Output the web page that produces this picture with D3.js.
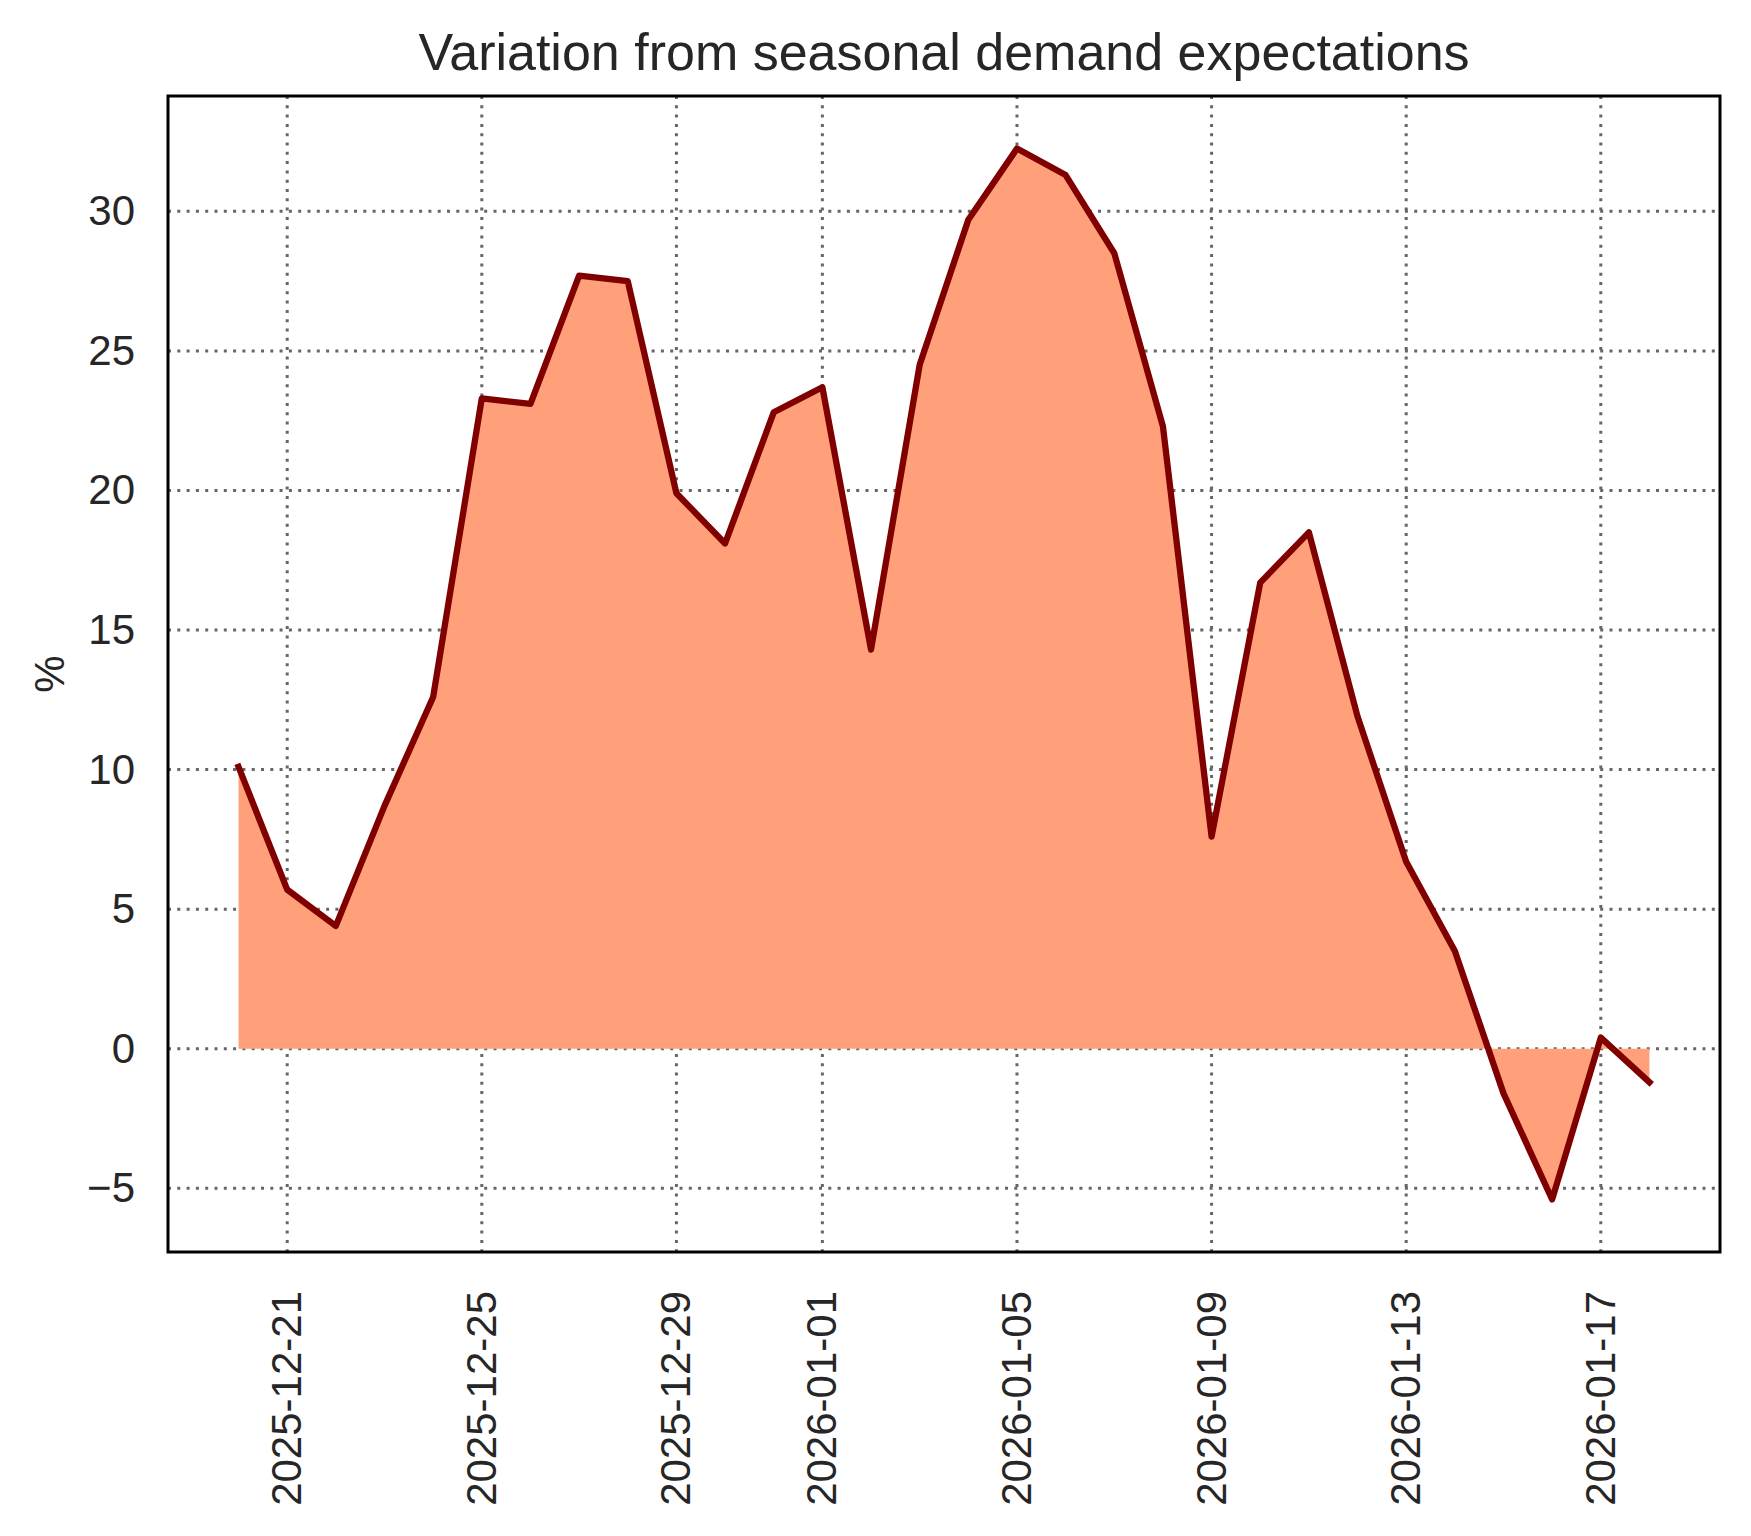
<!DOCTYPE html>
<html>
<head>
<meta charset="utf-8">
<script src="https://cdn.jsdelivr.net/npm/d3@7"></script>
<style>
    body { margin: 0; background: #fff; }
    text { font-family: "Liberation Sans", Arial, sans-serif; fill: #262626; }
</style>
</head>
<body>
<div id="chart"></div>
<script>
// Daily values, 2025-12-20 .. 2026-01-18
const startDate = '2025-12-20';
const variation = [10.1, 5.7, 4.4, 8.7, 12.6, 23.3, 23.1, 27.7, 27.5, 19.9,
                   18.1, 22.8, 23.7, 14.3, 24.5, 29.7, 32.25, 31.3, 28.5, 22.3,
                   7.6, 16.7, 18.5, 11.9, 6.7, 3.5, -1.6, -5.4, 0.4, -1.2];
const xTickLabels = ['2025-12-21', '2025-12-25', '2025-12-29', '2026-01-01',
                     '2026-01-05', '2026-01-09', '2026-01-13', '2026-01-17'];
const yTicks = [-5, 0, 5, 10, 15, 20, 25, 30];

const parseDate = d3.utcParse('%Y-%m-%d');
const start = parseDate(startDate);
const data = variation.map((v, i) => ({date: d3.utcDay.offset(start, i), value: v}));

const width = 1751, height = 1536;
const plot = {left: 168, right: 1720, top: 96, bottom: 1252};

const svg = d3.select('#chart')
    .append('svg')
    .attr('width', width)
    .attr('height', height);

// matplotlib-like 5% margins
const xExt = d3.extent(data, d => d.date);
const xPad = (xExt[1] - xExt[0]) * 0.05;
const x = d3.scaleUtc()
    .domain([new Date(+xExt[0] - xPad), new Date(+xExt[1] + xPad)])
    .range([plot.left, plot.right]);

const yExt = d3.extent(data, d => d.value);
const yPad = (yExt[1] - yExt[0]) * 0.05;
const y = d3.scaleLinear()
    .domain([yExt[0] - yPad, yExt[1] + yPad])
    .range([plot.bottom, plot.top]);

const xTicks = xTickLabels.map(parseDate);

// Grid
const grid = svg.append('g')
    .attr('stroke', '#666')
    .attr('stroke-width', 3)
    .attr('stroke-dasharray', '3,6.3');

grid.selectAll('.vgrid')
    .data(xTicks)
    .enter()
    .append('line')
    .attr('x1', d => x(d)).attr('x2', d => x(d))
    .attr('y1', plot.top).attr('y2', plot.bottom);

grid.selectAll('.hgrid')
    .data(yTicks)
    .enter()
    .append('line')
    .attr('x1', plot.left).attr('x2', plot.right)
    .attr('y1', d => y(d)).attr('y2', d => y(d));

// Filled area against zero
const area = d3.area()
    .x(d => x(d.date))
    .y0(y(0))
    .y1(d => y(d.value));

svg.append('path')
    .datum(data)
    .attr('fill', '#ffa07a')
    .attr('d', area);

const line = d3.line()
    .x(d => x(d.date))
    .y(d => y(d.value));

svg.append('path')
    .datum(data)
    .attr('fill', 'none')
    .attr('stroke', '#800000')
    .attr('stroke-width', 6.3)
    .attr('stroke-linejoin', 'round')
    .attr('stroke-linecap', 'square')
    .attr('d', line);

// Axes
const yAxis = svg.append('g')
    .attr('transform', `translate(${plot.left},0)`)
    .call(d3.axisLeft(y)
        .tickValues(yTicks)
        .tickSize(0)
        .tickPadding(33)
        .tickFormat(d => d < 0 ? '\u2212' + Math.abs(d) : d));
yAxis.select('.domain').remove();
yAxis.selectAll('text')
    .attr('font-size', 42)
    .attr('fill', '#262626')
    .style('font-family', '"Liberation Sans", Arial, sans-serif');

const xAxis = svg.append('g')
    .attr('transform', `translate(0,${plot.bottom})`)
    .call(d3.axisBottom(x)
        .tickValues(xTicks)
        .tickSize(0)
        .tickFormat(d3.utcFormat('%Y-%m-%d')));
xAxis.select('.domain').remove();
xAxis.selectAll('text')
    .attr('font-size', 42)
    .attr('fill', '#262626')
    .style('font-family', '"Liberation Sans", Arial, sans-serif')
    .attr('text-anchor', 'end')
    .attr('transform', 'translate(0,39) rotate(-90)')
    .attr('x', 0)
    .attr('y', 0)
    .attr('dy', '0.32em');

// Frame
svg.append('rect')
    .attr('x', plot.left)
    .attr('y', plot.top)
    .attr('width', plot.right - plot.left)
    .attr('height', plot.bottom - plot.top)
    .attr('fill', 'none')
    .attr('stroke', '#000')
    .attr('stroke-width', 3);

// Labels
svg.append('text')
    .attr('x', (plot.left + plot.right) / 2)
    .attr('y', 70)
    .attr('text-anchor', 'middle')
    .attr('font-size', 52)
    .text('Variation from seasonal demand expectations');

svg.append('text')
    .attr('transform', `translate(64,${(plot.top + plot.bottom) / 2}) rotate(-90)`)
    .attr('text-anchor', 'middle')
    .attr('font-size', 42)
    .text('%');
</script>
</body>
</html>
